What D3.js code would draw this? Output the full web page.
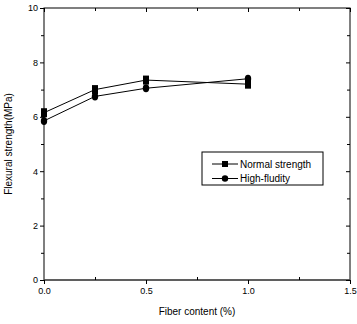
<!DOCTYPE html>
<html><head><meta charset="utf-8">
<script src="https://cdn.jsdelivr.net/npm/d3@7"></script>
<style>body{margin:0;background:#fff}svg{display:block}text{font-family:"Liberation Sans",Arial,sans-serif;fill:#000}</style>
</head><body><svg id="c" width="357" height="324"></svg>
<script>
const fiber = [0, 0.25, 0.5, 1.0];
const normalStrength = [6.15, 7.0, 7.35, 7.2];
const highFluidity = [5.85, 6.75, 7.05, 7.4];
const xTicks = [0.0, 0.5, 1.0, 1.5];
const yTicks = [0, 2, 4, 6, 8, 10];
const seriesNames = ["Normal strength", "High-fludity"];

const svg = d3.select("#c");
const L = 44, R = 350, T = 8, B = 280;
const x = d3.scaleLinear().domain([0, 1.5]).range([L, R]);
const y = d3.scaleLinear().domain([0, 10]).range([B, T]);

// frame
svg.append("rect").attr("x", L).attr("y", T).attr("width", R - L).attr("height", B - T)
  .attr("fill", "none").attr("stroke", "#000").attr("stroke-width", 1);
svg.append("line").attr("x1", L).attr("x2", R).attr("y1", B).attr("y2", B)
  .attr("stroke", "#555").attr("stroke-width", 1.6);

const fmtX = d3.format(".1f");
svg.append("g").attr("transform", `translate(0,${B})`)
  .call(d3.axisBottom(x).tickValues(xTicks).tickFormat(fmtX).tickSize(4).tickPadding(4));
svg.append("g").attr("transform", `translate(0,${B})`)
  .call(d3.axisTop(x).tickValues([0.25, 0.75, 1.25]).tickFormat("").tickSize(3));
svg.append("g").attr("transform", `translate(0,${T})`)
  .call(d3.axisBottom(x).tickValues(xTicks).tickFormat("").tickSize(4));
svg.append("g").attr("transform", `translate(0,${T})`)
  .call(d3.axisBottom(x).tickValues([0.25, 0.75, 1.25]).tickFormat("").tickSize(3));
svg.append("g").attr("transform", `translate(${L},0)`)
  .call(d3.axisLeft(y).tickValues(yTicks).tickFormat(d3.format("d")).tickSize(4).tickPadding(2));
svg.append("g").attr("transform", `translate(${L},0)`)
  .call(d3.axisLeft(y).tickValues([1, 3, 5, 7, 9]).tickFormat("").tickSize(3));
svg.append("g").attr("transform", `translate(${R},0)`)
  .call(d3.axisLeft(y).tickValues(yTicks).tickFormat("").tickSize(4));
svg.append("g").attr("transform", `translate(${R},0)`)
  .call(d3.axisLeft(y).tickValues([1, 3, 5, 7, 9]).tickFormat("").tickSize(3));

svg.selectAll(".domain").remove();
svg.selectAll(".tick line").attr("stroke", "#000");
svg.selectAll(".tick text").attr("font-size", 9).attr("font-family", "Liberation Sans, Arial, sans-serif").attr("fill", "#000");

const line = d3.line().x((d, i) => x(fiber[i])).y(d => y(d));
[normalStrength, highFluidity].forEach(s => {
  svg.append("path").attr("d", line(s)).attr("fill", "none").attr("stroke", "#000").attr("stroke-width", 1);
});
svg.selectAll(".sq").data(normalStrength).enter().append("rect")
  .attr("x", (d, i) => x(fiber[i]) - 3).attr("y", d => y(d) - 4.5)
  .attr("width", 6).attr("height", 9).attr("fill", "#000");
svg.selectAll(".ci").data(highFluidity).enter().append("ellipse")
  .attr("cx", (d, i) => x(fiber[i])).attr("cy", d => y(d))
  .attr("rx", 3.2).attr("ry", 4).attr("fill", "#000");

const lg = svg.append("g");
lg.append("rect").attr("x", 202).attr("y", 152).attr("width", 121).attr("height", 33)
  .attr("fill", "#fff").attr("stroke", "#000").attr("stroke-width", 1);
seriesNames.forEach((n, i) => {
  const yy = 164 + i * 14.5;
  lg.append("line").attr("x1", 212).attr("x2", 238).attr("y1", yy).attr("y2", yy).attr("stroke", "#000");
  if (i === 0) lg.append("rect").attr("x", 222).attr("y", yy - 3).attr("width", 6).attr("height", 6).attr("fill", "#000");
  else lg.append("circle").attr("cx", 225).attr("cy", yy).attr("r", 3.2).attr("fill", "#000");
  lg.append("text").attr("x", 240).attr("y", yy + 3.5).attr("font-size", 10).text(n);
});

svg.append("text").attr("x", (L + R) / 2).attr("y", 315).attr("text-anchor", "middle")
  .attr("font-size", 10).text("Fiber content (%)");
svg.append("text").attr("transform", `translate(12,${(T + B) / 2}) rotate(-90)`)
  .attr("text-anchor", "middle").attr("font-size", 10).text("Flexural strength(MPa)");
</script></body></html>
